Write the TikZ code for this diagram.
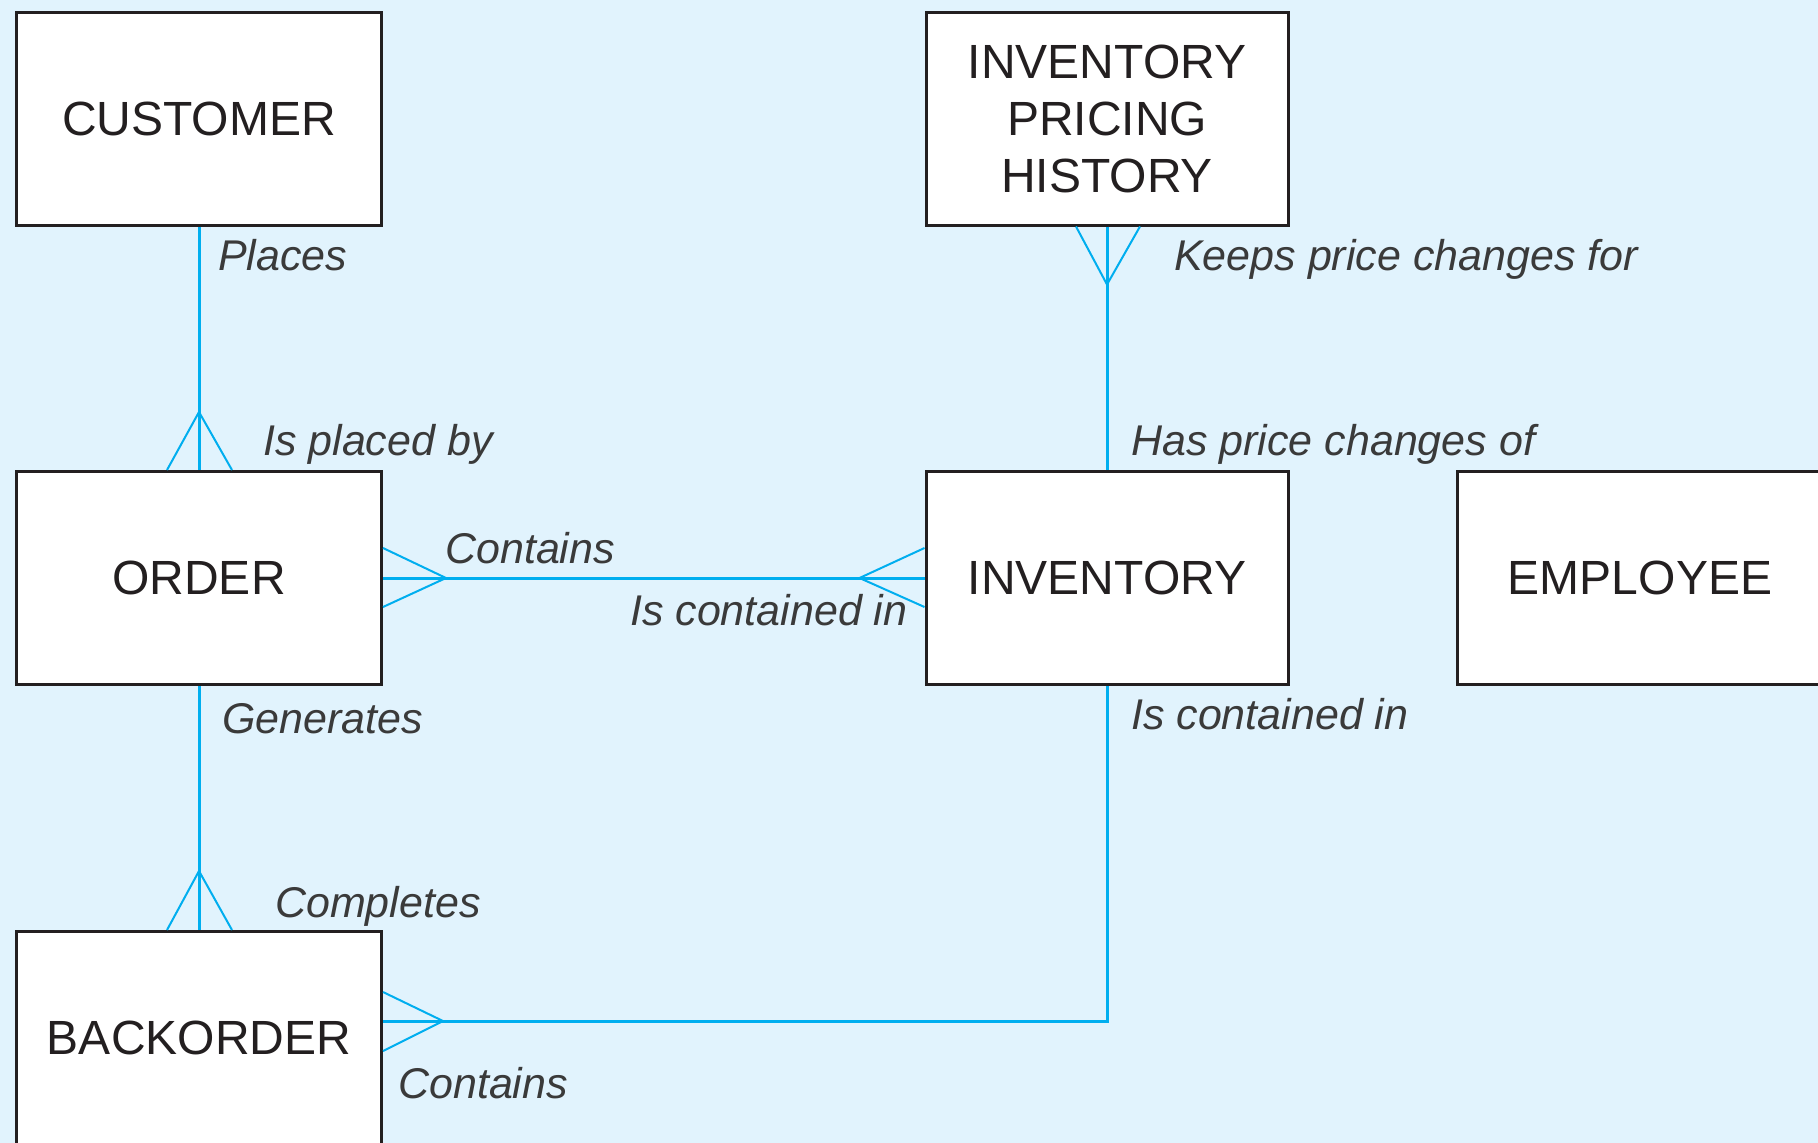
\documentclass[tikz,border=0pt]{standalone}
\usepackage{fontspec}
\setmainfont{Liberation Sans}
\usetikzlibrary{calc}
\definecolor{bg}{HTML}{E1F3FD}
\definecolor{cyanline}{HTML}{00AEEF}
\definecolor{ink}{HTML}{231F20}
\definecolor{lbl}{HTML}{3A3A3A}
\tikzset{
  entity/.style={draw=ink, line width=3pt, fill=white, minimum width=365pt, minimum height=213pt,
    inner sep=0pt, align=center, text=ink, font=\fontsize{48}{57}\selectfont},
  rel/.style={draw=cyanline, line width=3pt},
  foot/.style={draw=cyanline, line width=2pt, line join=miter},
  role/.style={anchor=base west, inner sep=0pt, text=lbl, font=\fontsize{43}{50}\selectfont\itshape}
}
\begin{document}
\begin{tikzpicture}[x=1pt, y=-1pt]
\useasboundingbox (0,0) rectangle (1818,1143);
\fill[bg] (0,0) rectangle (1818,1143);

% entities
\node[entity] (customer) at (199,118.5) {CUSTOMER};
\node[entity] (order) at (199,578) {ORDER};
\node[entity] (backorder) at (199,1038) {BACKORDER};
\node[entity, minimum width=362pt] (iph) at (1107,118.5) {INVENTORY\\PRICING\\HISTORY};
\node[entity, minimum width=362pt] (inventory) at (1107,578) {INVENTORY};
\node[entity] (employee) at (1640,578) {EMPLOYEE};

% relationship lines
\draw[rel] (customer) -- (order);
\draw[rel] (iph) -- (inventory);
\draw[rel] (order) -- (inventory);
\draw[rel] (order) -- (backorder);
\draw[rel] ([yshift=17pt]backorder.east) -| (inventory.south);

% crow's feet
\draw[foot] ([xshift=-32pt]order.north) -- ([yshift=58pt]order.north) -- ([xshift=33pt]order.north);
\draw[foot] ([xshift=-31pt]iph.south) -- ([yshift=-58pt]iph.south) -- ([xshift=33pt]iph.south);
\draw[foot] ([yshift=30pt]order.east) -- ([xshift=63pt]order.east) -- ([yshift=-29pt]order.east);
\draw[foot] ([yshift=30pt]inventory.west) -- ([xshift=-65pt]inventory.west) -- ([yshift=-29pt]inventory.west);
\draw[foot] ([xshift=-32pt]backorder.north) -- ([yshift=59pt]backorder.north) -- ([xshift=33pt]backorder.north);
\draw[foot] ([yshift=46pt]backorder.east) -- ([xshift=60pt,yshift=17pt]backorder.east) -- ([yshift=-13pt]backorder.east);

% role labels
\node[role] (l1) at (218,270) {Places};
\node[role] (l2) at (263,455) {Is placed by};
\node[role] (l3) at (445,563) {Contains};
\node[role] (l4) at (630,625) {Is contained in};
\node[role] (l5) at (222,733) {Generates};
\node[role] (l6) at (275,917) {Completes};
\node[role] (l7) at (398,1098) {Contains};
\node[role] (l8) at (1174,270) {Keeps price changes for};
\node[role] (l9) at (1131,455) {Has price changes of};
\node[role] (l10) at (1131,729) {Is contained in};
\end{tikzpicture}
\end{document}
